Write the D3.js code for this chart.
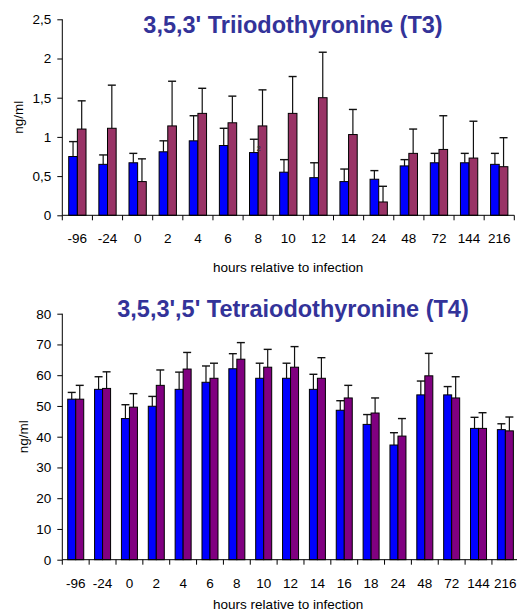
<!DOCTYPE html>
<html>
<head>
<meta charset="utf-8">
<script src="https://cdn.jsdelivr.net/npm/d3@7"></script>
<style>
  html, body { margin: 0; padding: 0; background: #fff; }
  svg { display: block; font-family: "Liberation Sans", Arial, sans-serif; }
</style>
</head>
<body>
<svg id="chart" width="517" height="614"></svg>
<script>
// ---- T3 data ----
const t3Categories = ["-96","-24","0","2","4","6","8","10","12","14","24","48","72","144","216"];
const t3Blue       = [0.75,0.65,0.67,0.81,0.95,0.89,0.80,0.55,0.48,0.43,0.46,0.63,0.67,0.67,0.65];
const t3BlueErr    = [0.19,0.12,0.12,0.14,0.32,0.22,0.17,0.16,0.19,0.16,0.11,0.08,0.12,0.12,0.14];
const t3Maroon     = [1.10,1.11,0.43,1.14,1.30,1.18,1.14,1.30,1.50,1.03,0.17,0.79,0.84,0.73,0.62];
const t3MaroonErr  = [0.36,0.55,0.29,0.57,0.32,0.34,0.46,0.47,0.58,0.32,0.20,0.31,0.43,0.47,0.37];
const t3Ticks      = [0,0.5,1,1.5,2,2.5];

// ---- T4 data ----
const t4Categories = ["-96","-24","0","2","4","6","8","10","12","14","16","18","24","48","72","144","216"];
const t4Blue       = [52.2,55.4,45.9,49.9,55.4,57.7,62.1,59.0,59.0,55.4,48.6,44.0,37.3,53.6,53.6,42.7,42.3];
const t4BlueErr    = [2.2,4.1,4.5,3.2,5.6,5.3,4.9,4.9,4.9,4.9,3.1,3.2,4.0,4.5,2.7,3.6,1.9];
const t4Purple     = [52.2,55.7,49.6,56.7,62.0,59.0,65.2,62.6,62.6,59.0,52.6,47.7,40.2,59.8,52.6,42.7,41.9];
const t4PurpleErr  = [4.5,5.4,4.4,5.0,5.4,4.9,5.4,5.8,6.7,6.7,4.1,4.9,5.7,7.3,6.9,5.1,4.5];
const t4Ticks      = [0,10,20,30,40,50,60,70,80];

const svg = d3.select("#chart");
const fmtComma = d => String(d).replace(".", ",");

function drawPanel(cfg) {
  const g = svg.append("g");
  const x0 = d3.scaleBand().domain(cfg.cats).range([cfg.left, cfg.right])
    .paddingInner(cfg.pad).paddingOuter(cfg.pad / 2);
  const x1 = d3.scaleBand().domain([0, 1]).range([0, x0.bandwidth()]);
  const y = d3.scaleLinear().domain([0, cfg.max]).range([cfg.bottom, cfg.top]);

  const series = [
    { vals: cfg.a, errs: cfg.aErr, color: "#0000ff" },
    { vals: cfg.b, errs: cfg.bErr, color: cfg.bColor }
  ];

  // error bars (drawn first, behind bars)
  series.forEach((s, si) => {
    cfg.cats.forEach((c, i) => {
      const cx = x0(c) + x1(si) + x1.bandwidth() / 2;
      const yTop = y(s.vals[i] + s.errs[i]);
      g.append("line").attr("x1", cx).attr("x2", cx)
        .attr("y1", y(s.vals[i])).attr("y2", yTop)
        .attr("stroke", "#111").attr("stroke-width", 1.2);
      g.append("line").attr("x1", cx - 4).attr("x2", cx + 4)
        .attr("y1", yTop).attr("y2", yTop)
        .attr("stroke", "#111").attr("stroke-width", 1.4);
    });
  });

  // bars
  series.forEach((s, si) => {
    g.selectAll(null).data(cfg.cats).enter().append("rect")
      .attr("x", (c) => x0(c) + x1(si))
      .attr("y", (c, i) => y(s.vals[i]))
      .attr("width", x1.bandwidth())
      .attr("height", (c, i) => cfg.bottom - y(s.vals[i]))
      .attr("fill", s.color)
      .attr("stroke", "#000").attr("stroke-width", 1);
  });

  // y axis
  const yAxis = d3.axisLeft(y).tickValues(cfg.ticks).tickSize(5).tickPadding(6)
    .tickFormat(cfg.fmt);
  const ya = g.append("g").attr("transform", `translate(${cfg.left},0)`).call(yAxis);
  ya.select(".domain").attr("stroke", "#000").attr("d", `M0,${cfg.top}V${cfg.bottom}`);
  ya.selectAll(".tick line").attr("stroke", "#000");
  ya.selectAll("text").attr("font-size", "13.5px").attr("fill", "#000")
    .attr("font-family", "Liberation Sans, Arial, sans-serif");

  // x axis line + boundary tick marks
  g.append("line").attr("x1", cfg.left).attr("x2", cfg.right)
    .attr("y1", cfg.bottom).attr("y2", cfg.bottom).attr("stroke", "#000");
  const bounds = cfg.cats.map(c => x0(c) - x0.step() * cfg.pad / 2).concat([cfg.right]);
  g.selectAll(null).data(bounds).enter().append("line")
    .attr("x1", d => d).attr("x2", d => d)
    .attr("y1", cfg.bottom).attr("y2", cfg.bottom + 5)
    .attr("stroke", "#000");
  g.selectAll(null).data(cfg.cats).enter().append("text")
    .attr("x", c => x0(c) + x0.bandwidth() / 2)
    .attr("y", cfg.bottom + 28)
    .attr("text-anchor", "middle")
    .attr("font-size", "13.5px")
    .text(c => c);

  // titles
  g.append("text").attr("x", 293).attr("y", cfg.titleY)
    .attr("text-anchor", "middle").attr("font-size", "23.5px")
    .attr("font-weight", "bold").attr("fill", "#333399")
    .text(cfg.title);
  g.append("text").attr("x", (cfg.left + 514) / 2).attr("y", cfg.xTitleY)
    .attr("text-anchor", "middle").attr("font-size", "13.5px")
    .text("hours relative to infection");
  g.append("text")
    .attr("transform", `translate(${cfg.yTitleX},${(cfg.top + cfg.bottom) / 2}) rotate(-90)`)
    .attr("text-anchor", "middle").attr("font-size", "13.5px")
    .text("ng/ml");
  return { x0, x1, y };
}

const p1 = drawPanel({
  cats: t3Categories, a: t3Blue, aErr: t3BlueErr, b: t3Maroon, bErr: t3MaroonErr,
  bColor: "#993366", left: 62.3, right: 514.3, top: 19.3, bottom: 215.3,
  max: 2.5, ticks: t3Ticks, fmt: fmtComma, pad: 0.426,
  title: "3,5,3' Triiodothyronine (T3)", titleY: 33, xTitleY: 272, yTitleX: 23
});

// small stray label near the 8 h group in the original figure
svg.append("text")
  .attr("x", p1.x0("8") + p1.x0.bandwidth() / 2 + 0.5)
  .attr("y", 151).attr("text-anchor", "middle")
  .attr("font-size", "7px").attr("font-weight", "bold").attr("fill", "#333")
  .text("2");

drawPanel({
  cats: t4Categories, a: t4Blue, aErr: t4BlueErr, b: t4Purple, bErr: t4PurpleErr,
  bColor: "#800080", left: 62.3, right: 518.8, top: 313.7, bottom: 559.7,
  max: 80, ticks: t4Ticks, fmt: d => d, pad: 0.404,
  title: "3,5,3',5' Tetraiodothyronine (T4)", titleY: 316.5, xTitleY: 609, yTitleX: 28
});
</script>
</body>
</html>
